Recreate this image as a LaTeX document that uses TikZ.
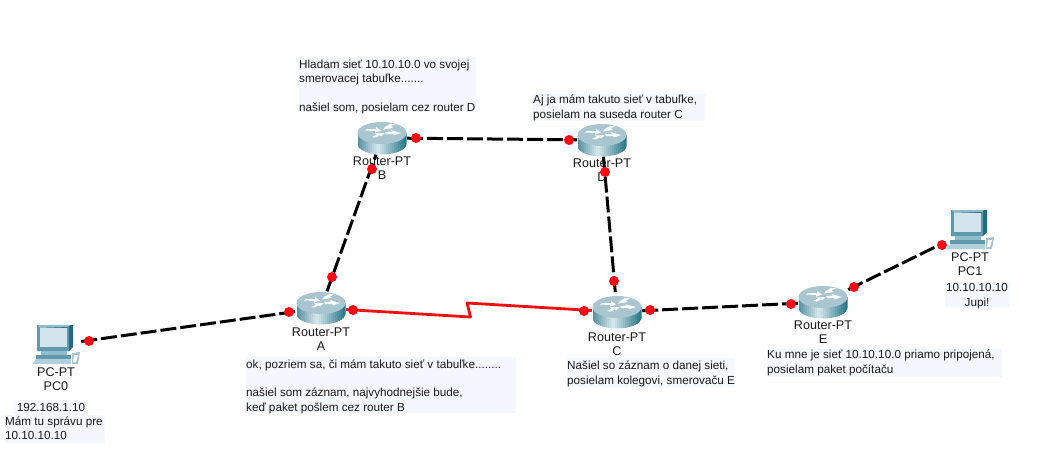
\documentclass[tikz,border=0pt]{standalone}
\usepackage{fontspec}
\setmainfont{Liberation Sans}
\definecolor{notebg}{HTML}{F5F7FE}
\definecolor{linkred}{HTML}{F01010}
\definecolor{dotred}{HTML}{FA0A14}
\definecolor{rtop}{HTML}{A9C6D0}
\definecolor{rdark}{HTML}{1F7184}
\definecolor{rmid}{HTML}{5A93A3}
\definecolor{rlight}{HTML}{D2E4E9}
\definecolor{pcteal}{HTML}{5E9AAC}
\definecolor{pcdark}{HTML}{1F6B7E}
\definecolor{pclight}{HTML}{8FBCCB}
\definecolor{pcscreen}{HTML}{D3E4EC}
\newcommand{\routericon}[1]{%
  \begin{scope}[shift={(#1.center)}]
    \begin{scope}
      \clip (-24.5,-5) -- (24.5,-5) -- (24.5,6) arc[x radius=24.5,y radius=10.5,start angle=0,end angle=180] -- cycle;
      \foreach \i in {0,...,9}{
        \pgfmathsetmacro{\p}{100*\i/9}
        \fill[rlight!\p!rmid] ({-24.5+2*\i},-6) rectangle ({-22.3+2*\i},18);
      }
      \foreach \i in {0,...,14}{
        \pgfmathsetmacro{\p}{100*\i/14}
        \fill[rdark!\p!rlight] ({-4.5+2*\i},-6) rectangle ({-2.3+2*\i},18);
      }
    \end{scope}
    \fill[rtop] (0,-5) ellipse[x radius=24.5,y radius=11];
    \fill[white] (-15,-9) -- (-6,-9) -- (-6,-11) -- (-1,-7.5) -- (-7,-5.5) -- (-7,-7) -- (-17,-7.5) -- cycle;
    \fill[white] (3,-11) -- (8,-14) -- (13,-14) -- (9,-11.5) -- (11,-10) -- (1,-8.5) -- cycle;
    \fill[white] (-10,-1) -- (-5,-3.5) -- (-7,-4.5) -- (3,-5) -- (-1,-1.5) -- (-2,-2.8) -- (-6,-0.5) -- cycle;
    \fill[white] (3,-6) -- (10,-6.5) -- (9,-7.8) -- (19,-5) -- (12,-2.5) -- (11,-4) -- (4,-4) -- cycle;
  \end{scope}}
\newcommand{\pcicon}[1]{%
  \begin{scope}[shift={(#1.center)}]
    \fill[pcdark] (-19,-20) -- (17,-20) -- (17,2) -- (13,6) -- (-19,6) -- cycle;
    \fill[pclight] (-19,-20) -- (14,-20) -- (12,-18) -- (-16,-17) -- cycle;
    \fill[pcteal] (-19,-19) -- (-16,-17) -- (11,-17) -- (13,-18) -- (13,6) -- (-19,6) -- cycle;
    \fill[pcscreen] (-16,-17) -- (11,-17) -- (11,2) -- (-16,2) -- cycle;
    \fill[pclight] (-15,6) -- (11,6) -- (11,10) -- (-15,10) -- cycle;
    \fill[pcteal] (-20,10) -- (15,10) -- (15,14) -- (-20,14) -- cycle;
    \fill[pclight!70] (-20,14) -- (15,14) -- (15,19) -- (-24,19) -- cycle;
    \fill[pcdark!40!white] (16,8) -- (24,7) -- (22,19) -- (16,19) -- cycle;
    \fill[white] (18,10) -- (22,10) -- (20,17) -- (17,17) -- cycle;
  \end{scope}}
\tikzset{
  x=1pt,y=-1pt,
  txt/.style={font=\fontsize{12.6}{14.3}\selectfont,inner sep=0pt,align=center,text=black!90},
  notebox/.style={fill=notebg,inner sep=0pt,anchor=north west},
  notetext/.style={anchor=north west,inner sep=0pt,font=\fontsize{11.7}{14.3}\selectfont,align=left,text=black!90},
  etherlink/.style={line width=3pt,dash pattern=on 16pt off 4pt,black},
  seriallink/.style={line width=2.8pt,linkred,line join=round},
  dot/.style={circle,fill=dotred,inner sep=0pt,minimum size=10pt},
  routerbox/.style={inner sep=0pt,minimum width=50pt,minimum height=33pt},
  pcbox/.style={inner sep=0pt,minimum width=50pt,minimum height=42pt}
}
\begin{document}
\begin{tikzpicture}
\useasboundingbox (0,0) rectangle (1038,455);
\fill[white] (0,0) rectangle (1038,455);
% notes
\node[notebox,minimum width=177pt,minimum height=55pt] (nb) at (299,57) {};
\node[notetext] (tb) at (299,59.5) {Hladam sieť 10.10.10.0 vo svojej\\smerovacej tabuľke.......\\[14.3pt]našiel som, posielam cez router D};
\node[notebox,minimum width=270pt,minimum height=56pt] (na) at (246,357) {};
\node[notetext] (ta) at (246,359.5) {ok, pozriem sa, či mám takuto sieť v tabuľke........\\[14.3pt]našiel som záznam, najvyhodnejšie bude,\\keď paket pošlem cez router B};
\node[notebox,minimum width=172pt,minimum height=27pt] (nd) at (533,94) {};
\node[notetext] (td) at (533,95) {Aj ja mám takuto sieť v tabuľke,\\posielam na suseda router C};
\node[notebox,minimum width=167pt,minimum height=29pt] (nc) at (567,358) {};
\node[notetext] (tc) at (567,361) {Našiel so záznam o danej sieti,\\posielam kolegovi, smerovaču E};
\node[notebox,minimum width=235pt,minimum height=28pt] (ne) at (767,349) {};
\node[notetext] (te) at (767,350) {Ku mne je sieť 10.10.10.0 priamo pripojená,\\posielam paket počítaču};
\node[notebox,minimum width=65pt,minimum height=25pt] (np1) at (945,282) {};
\node[notetext,anchor=center,align=center] (tp1) at (977,296) {10.10.10.10\\Jupi!};
\node[notebox,minimum width=74pt,minimum height=15pt] (np0a) at (14,400) {};
\node[notetext,anchor=center] (tp0a) at (51,407) {192.168.1.10};
\node[notebox,minimum width=100pt,minimum height=28pt] (np0b) at (5,415) {};
\node[notetext] (tp0b) at (5,416.5) {Mám tu správu pre\\10.10.10.10};
% devices
\node[routerbox] (A) at (321,308) {};
\node[routerbox] (B) at (382,138) {};
\node[routerbox] (D) at (602,140) {};
\node[routerbox] (C) at (617,312) {};
\node[routerbox] (E) at (823,302) {};
\node[pcbox] (PC0) at (56,345) {};
\node[pcbox] (PC1) at (970,230) {};
\routericon{A}\routericon{B}\routericon{D}\routericon{C}\routericon{E}
\pcicon{PC0}\pcicon{PC1}
% device labels
\node[txt] (lb) at (382,168.5) {Router-PT\\B};
\node[txt] (la) at (321,339) {Router-PT\\A};
\node[txt] (ld) at (602,170) {Router-PT\\D};
\node[txt] (lc) at (617,344) {Router-PT\\C};
\node[txt] (le) at (823,332) {Router-PT\\E};
\node[txt] (lp0) at (56,379.5) {PC-PT\\PC0};
\node[txt] (lp1) at (970,264) {PC-PT\\PC1};
% connectors
\draw[etherlink] (PC0) -- (A);
\draw[etherlink] (A) -- (B);
\draw[etherlink] (B) -- (D);
\draw[etherlink] (D) -- (C);
\draw[etherlink] (C) -- (E);
\draw[etherlink] (E) -- (PC1);
\coordinate (zag1) at (470.5,317);
\coordinate (zag2) at (467,303);
\draw[seriallink] (A) -- (zag1) -- (zag2) -- (C);
% link lights
\node[dot] (d1) at (89,341) {};
\node[dot] (d2) at (289,312) {};
\node[dot] (d3) at (332,277) {};
\node[dot] (d4) at (372,169) {};
\node[dot] (d5) at (416,138) {};
\node[dot] (d6) at (569,140) {};
\node[dot] (d7) at (605,172) {};
\node[dot] (d8) at (614,281) {};
\node[dot] (d9) at (353,310) {};
\node[dot] (d10) at (584,311) {};
\node[dot] (d11) at (650,310) {};
\node[dot] (d12) at (791,304) {};
\node[dot] (d13) at (854,287) {};
\node[dot] (d14) at (942,245) {};
\end{tikzpicture}
\end{document}
